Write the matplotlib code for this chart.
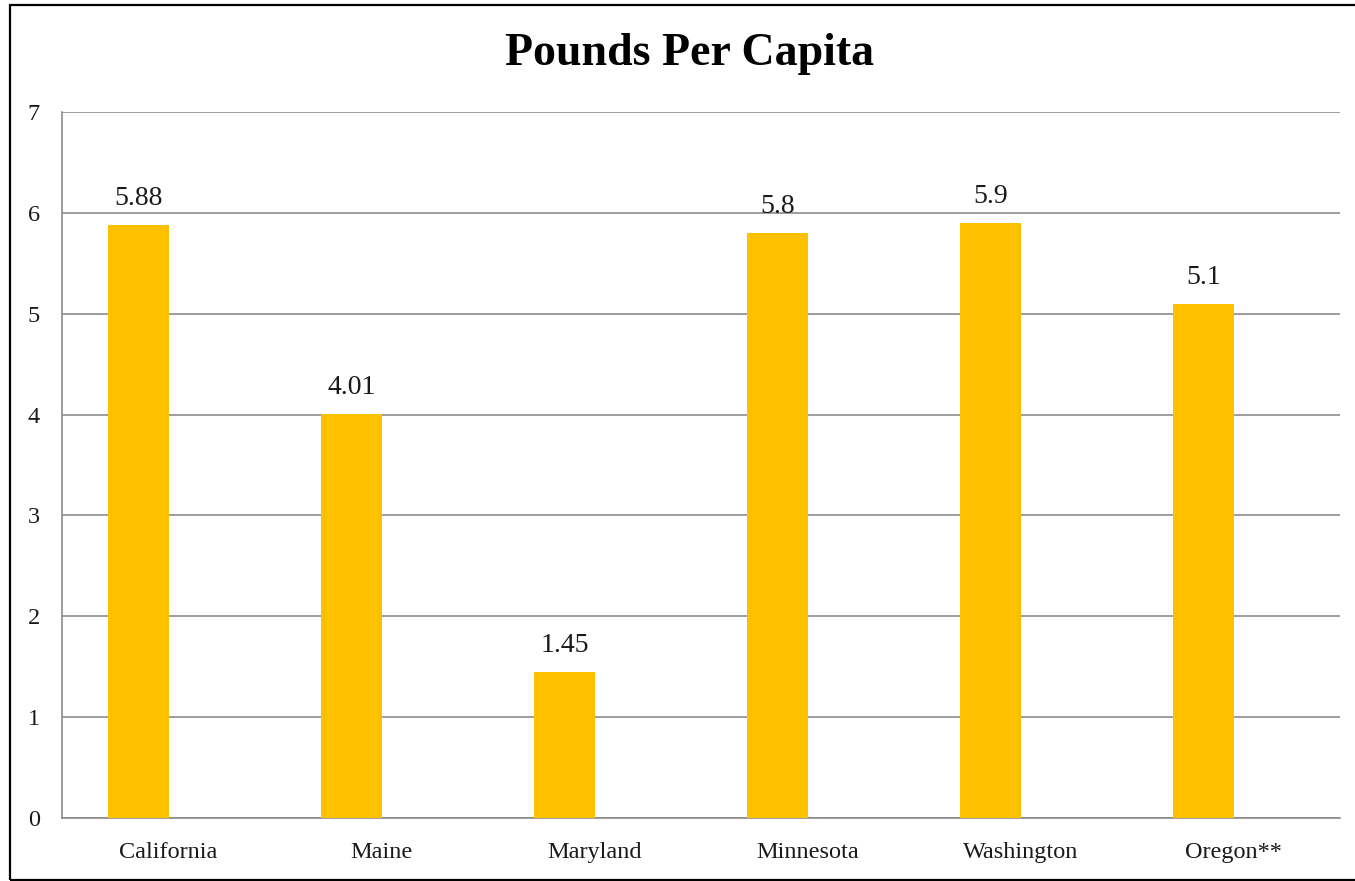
import matplotlib.pyplot as plt
import numpy as np
from matplotlib.patches import Rectangle

# Chart data
states = ["California", "Maine", "Maryland", "Minnesota", "Washington", "Oregon**"]
pounds = [5.88, 4.01, 1.45, 5.8, 5.9, 5.1]
value_labels = ["5.88", "4.01", "1.45", "5.8", "5.9", "5.1"]
y_ticks = [0, 1, 2, 3, 4, 5, 6, 7]

plt.rcParams['font.family'] = ['Liberation Serif', 'DejaVu Serif']

W, H = 1355, 881
fig = plt.figure(figsize=(W / 100, H / 100), dpi=100)
ax = fig.add_axes([62 / W, 1 - 818 / H, 1278 / W, 706 / H])

# bars sit left of the category centre (second empty series in the original)
x = np.arange(len(states)) + 0.5
bar_w = 0.286
bar_x = x - 0.141
ax.bar(bar_x, pounds, width=bar_w, color="#FFC000", zorder=3)

for bx, val, lab in zip(bar_x, pounds, value_labels):
    ax.annotate(lab, (bx, val), xytext=(0, 10), textcoords="offset points",
                ha="center", va="bottom", fontsize=20, color="#1a1a1a")

ax.set_xlim(0, len(states))
ax.set_ylim(0, 7)
ax.set_yticks(y_ticks)
ax.set_xticks(x)
ax.set_xticklabels(states)
ax.yaxis.grid(True, color="#8c8c8c", linewidth=1.2, zorder=0)
ax.tick_params(axis="both", length=0, labelsize=17.5, colors="#1a1a1a")
ax.tick_params(axis="y", pad=16)
ax.tick_params(axis="x", pad=17)
for s in ["top", "right"]:
    ax.spines[s].set_visible(False)
for s in ["left", "bottom"]:
    ax.spines[s].set_color("#8c8c8c")
    ax.spines[s].set_linewidth(1.2)

fig.text(690 / W, 1 - 54 / H, "Pounds Per Capita", ha="center", va="center",
         fontsize=33, fontweight="bold", color="black")

# outer chart border (right edge runs off the image)
fig.patches.append(Rectangle((10 / W, 1 / H), 1.2, 875 / H, transform=fig.transFigure,
                             fill=False, edgecolor="black", linewidth=1.6))

fig.savefig("out.png", dpi=100)
